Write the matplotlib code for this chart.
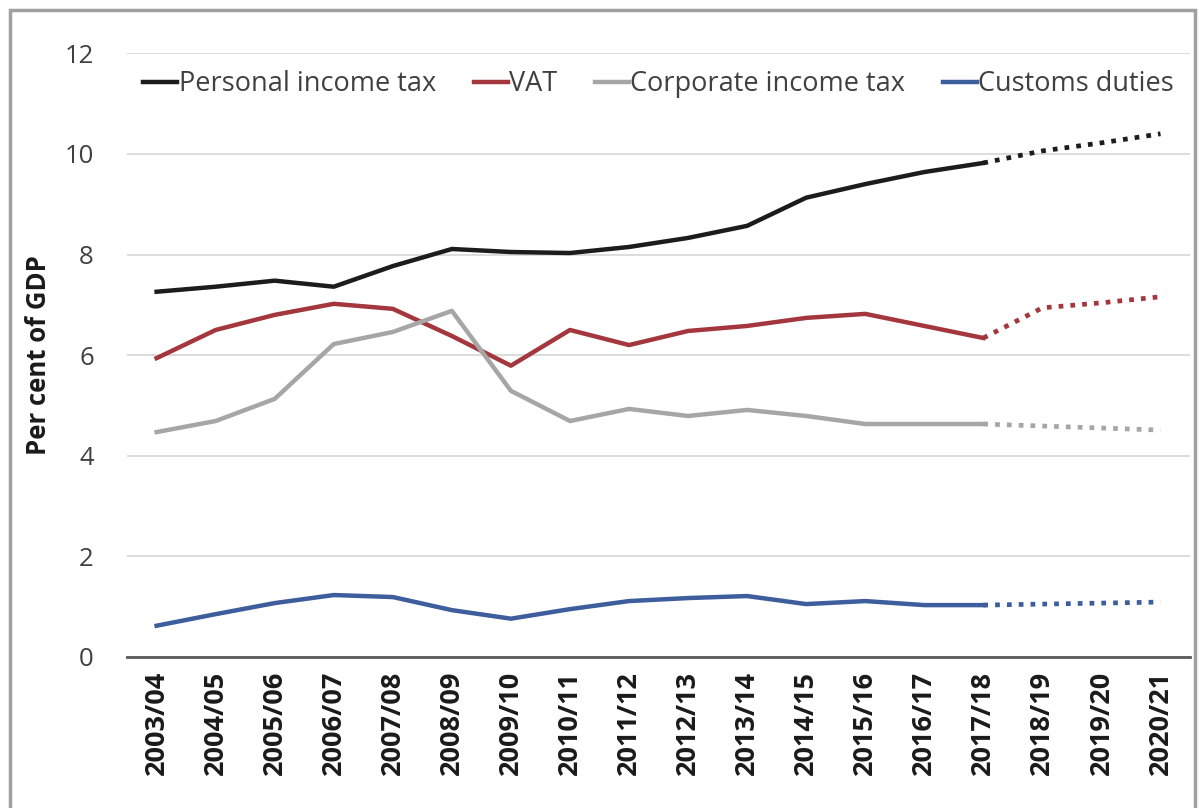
import matplotlib as mpl
mpl.use('Agg')
import matplotlib.pyplot as plt
from matplotlib.patches import Rectangle

# fiscal years on the x axis
years = ["2003/04", "2004/05", "2005/06", "2006/07", "2007/08", "2008/09",
         "2009/10", "2010/11", "2011/12", "2012/13", "2013/14", "2014/15",
         "2015/16", "2016/17", "2017/18", "2018/19", "2019/20", "2020/21"]

# per cent of GDP, last three years are projections (dotted)
personal_income_tax = [7.26, 7.36, 7.48, 7.36, 7.77, 8.11, 8.05, 8.03, 8.15,
                       8.33, 8.57, 9.13, 9.40, 9.64, 9.82, 10.06, 10.22, 10.40]
vat = [5.94, 6.50, 6.80, 7.02, 6.92, 6.38, 5.79, 6.50, 6.20,
       6.48, 6.58, 6.74, 6.82, 6.58, 6.34, 6.94, 7.04, 7.16]
corporate_income_tax = [4.47, 4.69, 5.13, 6.22, 6.46, 6.88, 5.29, 4.69, 4.93,
                        4.79, 4.91, 4.79, 4.63, 4.63, 4.63, 4.59, 4.55, 4.51]
customs_duties = [0.62, 0.85, 1.07, 1.23, 1.19, 0.93, 0.76, 0.95, 1.11,
                  1.17, 1.21, 1.05, 1.11, 1.03, 1.03, 1.05, 1.07, 1.09]

series = [
    ("Personal income tax", personal_income_tax, "#1c1c1c"),
    ("VAT", vat, "#a3373d"),
    ("Corporate income tax", corporate_income_tax, "#a6a6a6"),
    ("Customs duties", customs_duties, "#3d5d9c"),
]
last_actual = years.index("2017/18")

plt.rcParams['font.family'] = ['Open Sans', 'DejaVu Sans']

fig = plt.figure(figsize=(11.99, 8.08), dpi=100)
ax = fig.add_axes([0.106, 0.187, 0.8865, 0.747])

x = list(range(len(years)))
for name, vals, col in series:
    ax.plot(x[:last_actual + 1], vals[:last_actual + 1], color=col, lw=3.2,
            solid_joinstyle='round', label=name, zorder=3)
    ax.plot(x[last_actual:], vals[last_actual:], color=col, lw=3.4,
            linestyle=(0, (1, 1.5)), zorder=3)

ax.set_xlim(-0.5, len(years) - 0.5)
ax.set_ylim(0, 12)
ax.set_yticks([0, 2, 4, 6, 8, 10, 12])
ax.set_xticks(x)
ax.set_xticklabels(years, rotation=90, fontsize=19.5, fontweight='bold',
                   color='#1a1a1a')
ax.tick_params(axis='y', length=0, pad=24, labelsize=18.5, labelcolor='#404040')
ax.tick_params(axis='x', length=0, pad=10)

ax.grid(axis='y', color='#d9d9d9', lw=1.3, zorder=0)
for s in ['top', 'right', 'left']:
    ax.spines[s].set_visible(False)
ax.spines['bottom'].set_color('#595959')
ax.spines['bottom'].set_linewidth(2)
ax.spines['bottom'].set_zorder(4)

ax.set_ylabel("Per cent of GDP", fontsize=18.5, fontweight='bold',
              color='#1a1a1a', labelpad=9)

leg = ax.legend(loc='upper left', bbox_to_anchor=(0.0, 0.999), ncol=4,
                frameon=False, fontsize=19.5, handlelength=1.25,
                handletextpad=0.05, columnspacing=1.4, borderaxespad=0.2)
for t in leg.get_texts():
    t.set_color('#404040')

# outer frame like the original screenshot
fig.patches.append(Rectangle((0.008, -0.02), 0.989, 1.008, transform=fig.transFigure,
                             fill=False, edgecolor='#a0a0a0', lw=2.5))

fig.savefig("out.png", dpi=100)
